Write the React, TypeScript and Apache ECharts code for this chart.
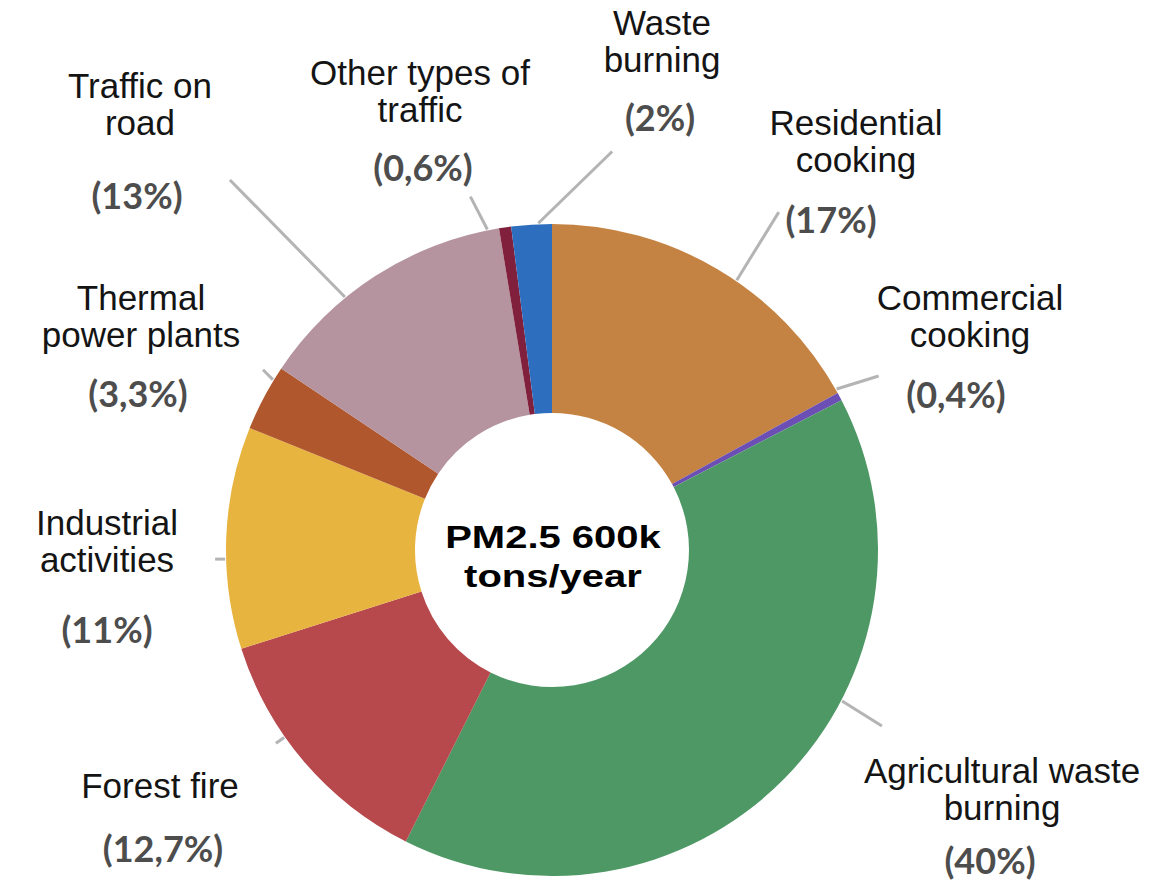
import React, { useEffect, useRef } from 'react';
import * as echarts from 'echarts';

// ---------- data ----------
const categories = [
  'Residential\ncooking',
  'Commercial\ncooking',
  'Agricultural waste\nburning',
  'Forest fire',
  'Industrial\nactivities',
  'Thermal\npower plants',
  'Traffic on\nroad',
  'Other types of\ntraffic',
  'Waste\nburning',
];
const shares = [17, 0.4, 40, 12.7, 11, 3.3, 13, 0.6, 2];
const centerTitle = ['PM2.5 600k', 'tons/year'];

// ---------- style / layout ----------
const colors = ['#C58343', '#6B4FB5', '#4E9865', '#B7484C', '#E8B440', '#B0572E', '#B594A0', '#80203C', '#2E6EBF'];
const CX = 552;
const CY = 550;
const R_OUT = 326;
const R_IN = 137;
const NAME_LH = 37;
const labelX = [856, 970, 1002, 160, 107, 141, 140, 420, 662];
const labelFirstLineY = [122, 297, 770, 785, 522, 297, 85, 72, 22];
const pctGap = [60, 60, 53, 63, 70, 59, 73, 58, 58];
const pctShift = [-25, -14, -12, 3, 0, -3, -3, 3, -2];
const leaderStart = [34.4, 60.5, 117.5, 235, 268.4, 301.4, 320.7, 348.6, 357.6];
const leaderDir = [31.7, 72.8, 122, 235, 270, 315, 315.5, 332.7, 45.8];
const leaderLen = [80, 44, 47, 10, 10, 14, 164, 37, 103];

const NAME_FONT = '"Liberation Sans", Arial, sans-serif';
const PCT_FONT = 'Lato, "Open Sans", sans-serif';

function fmtPct(v: number): string {
  return '(' + String(v).replace('.', ',') + '%)';
}

function pt(angleDeg: number, r: number, ox = CX, oy = CY): [number, number] {
  const a = (angleDeg * Math.PI) / 180;
  return [ox + r * Math.sin(a), oy - r * Math.cos(a)];
}

export default function App() {
  const ref = useRef<HTMLDivElement>(null);

  useEffect(() => {
    if (!ref.current) return;
    const chart = echarts.init(ref.current, undefined, { renderer: 'svg' });

    const data = categories.map((name, i) => {
      const shift = pctShift[i];
      const padL = shift > 0 ? 2 * shift : 0;
      const padR = shift < 0 ? -2 * shift : 0;
      return {
        name,
        value: shares[i],
        itemStyle: { color: colors[i] },
        label: {
          formatter: (p: any) => `{n|${p.name}}\n{p|${fmtPct(p.value)}}`,
          rich: {
            n: {
              fontFamily: NAME_FONT,
              fontSize: 35,
              lineHeight: NAME_LH,
              color: '#141414',
            },
            p: {
              fontFamily: PCT_FONT,
              fontWeight: 'bold',
              fontSize: 36,
              lineHeight: 2 * (pctGap[i] - NAME_LH / 2),
              color: '#4d4d4d',
              padding: [0, padR, 0, padL],
            },
          },
        },
      };
    });

    chart.setOption({
      animation: false,
      backgroundColor: '#ffffff',
      series: [
        {
          type: 'pie',
          center: [CX, CY],
          radius: [R_IN, R_OUT],
          startAngle: 90,
          clockwise: true,
          avoidLabelOverlap: false,
          data,
          itemStyle: { borderWidth: 0 },
          label: {
            show: true,
            position: 'outside',
          },
          labelLine: {
            show: true,
            length: 6,
            length2: 6,
            lineStyle: { color: '#b4b4b4', width: 3 },
          },
          emphasis: { disabled: true },
          labelLayout: (params: any) => {
            const i = params.dataIndex;
            const s = pt(leaderStart[i], R_OUT + 1);
            const e = pt(leaderDir[i], leaderLen[i], s[0], s[1]);
            return {
              x: labelX[i],
              y: labelFirstLineY[i] - NAME_LH / 2,
              align: 'center',
              verticalAlign: 'top',
              labelLinePoints: [s, e],
            };
          },
        },
      ],
      graphic: [
        {
          type: 'text',
          x: CX + 1,
          y: 537,
          scaleX: 1.25,
          style: {
            text: centerTitle[0],
            font: 'bold 32px "Liberation Sans", Arial, sans-serif',
            fill: '#000000',
            align: 'center',
            verticalAlign: 'middle',
          },
        },
        {
          type: 'text',
          x: CX + 1,
          y: 576,
          scaleX: 1.25,
          style: {
            text: centerTitle[1],
            font: 'bold 32px "Liberation Sans", Arial, sans-serif',
            fill: '#000000',
            align: 'center',
            verticalAlign: 'middle',
          },
        },
      ],
    });

    return () => chart.dispose();
  }, []);

  return (
    <div
      ref={ref}
      style={{ position: 'fixed', left: 0, top: 0, width: 1168, height: 882, background: '#fff' }}
    />
  );
}
